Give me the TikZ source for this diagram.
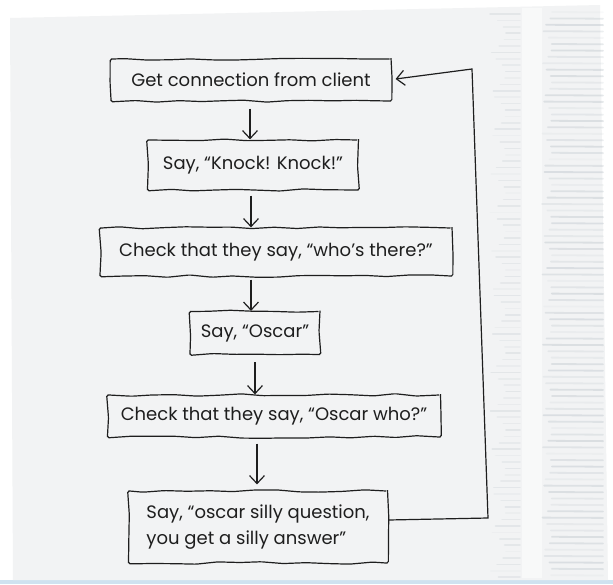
\documentclass[tikz,border=0pt]{standalone}
\usepackage{fontspec}
\setmainfont{Poppins}
\usetikzlibrary{arrows.meta,decorations.pathmorphing}
\definecolor{napkin}{HTML}{F2F3F4}
\definecolor{streak}{HTML}{A9B4BC}
\definecolor{stripblue}{HTML}{CFE2F0}
\definecolor{ink}{HTML}{1E1E1E}
\tikzset{
  sketch/.style={draw=ink, line width=1.2pt, decorate,
    decoration={random steps, segment length=22pt, amplitude=1.3pt}, rounded corners=1.5pt},
  stepbox/.style={sketch, text=ink, font=\fontsize{18}{26}\selectfont, inner sep=0pt, align=left},
  flow/.style={draw=ink, line width=1.2pt, -{Straight Barb[length=8pt,width=15pt,line width=1.2pt]}},
}
\begin{document}
\begin{tikzpicture}[x=1pt,y=-1pt]
\pgfmathsetseed{11}
\useasboundingbox (0,0) rectangle (613,584);
% background
\fill[white] (0,0) rectangle (613,584);
\fill[stripblue] (0,580) rectangle (613,584);
\fill[napkin] (10,18) -- (600,5) -- (608,580) -- (13,580) -- cycle;
% napkin texture on the right
\fill[white,opacity=0.5] (522,8) rectangle (542,578);
\foreach \i in {0,...,88} {
  \pgfmathsetmacro{\yy}{12+\i*6.4}
  \pgfmathsetmacro{\op}{0.06+0.26*abs(sin(\i*47))}
  \pgfmathsetmacro{\xa}{542+10*abs(cos(\i*33))}
  \draw[streak, line width=1.8pt, opacity=\op, line cap=round] (\xa,\yy) -- (603,\yy+0.3);
  \pgfmathsetmacro{\opb}{0.04+0.16*abs(cos(\i*61))}
  \pgfmathsetmacro{\xb}{490+16*abs(sin(\i*29))}
  \draw[streak, line width=1.5pt, opacity=\opb, line cap=round] (\xb,\yy+2) -- (520,\yy+2);
}
% nodes
\node[stepbox, minimum width=280pt, minimum height=42pt] (b1) at (251,80)
  {Get connection from client};
\node[stepbox, minimum width=211pt, minimum height=50pt] (b2) at (253,165)
  {Say, “Knock! Knock!”};
\node[stepbox, minimum width=352pt, minimum height=48pt] (b3) at (276,252)
  {Check that they say, “who’s there?”};
\node[stepbox, minimum width=130pt, minimum height=43pt] (b4) at (255,333)
  {Say, “Oscar”};
\node[stepbox, minimum width=333pt, minimum height=42pt] (b5) at (274,416)
  {Check that they say, “Oscar who?”};
\node[stepbox, minimum width=259pt, minimum height=72pt] (b6) at (258,527)
  {Say, “oscar silly question,\\ you get a silly answer”};
% connectors
\draw[flow] ([xshift=-1pt,yshift=-7pt]b1.south) -- ([xshift=-1pt]b1.south |- b2.north);
\draw[flow] ([xshift=-2pt,yshift=-5pt]b2.south) -- ([xshift=-2pt]b2.south |- b3.north);
\draw[flow] ([xshift=-25pt,yshift=-3pt]b3.south) -- ([xshift=-4pt]b4.north);
\draw[flow] ([yshift=-7pt]b4.south) -- (b4.south |- b5.north);
\draw[flow] ([xshift=-17pt,yshift=-6pt]b5.south) -- ([xshift=-1pt,yshift=6pt]b6.north);
\coordinate (c1) at (488,518);
\coordinate (c2) at (472,69);
\draw[flow] ([yshift=7pt]b6.east) -- (c1) -- (c2) -- ([xshift=4pt,yshift=1pt]b1.east);
\end{tikzpicture}
\end{document}
